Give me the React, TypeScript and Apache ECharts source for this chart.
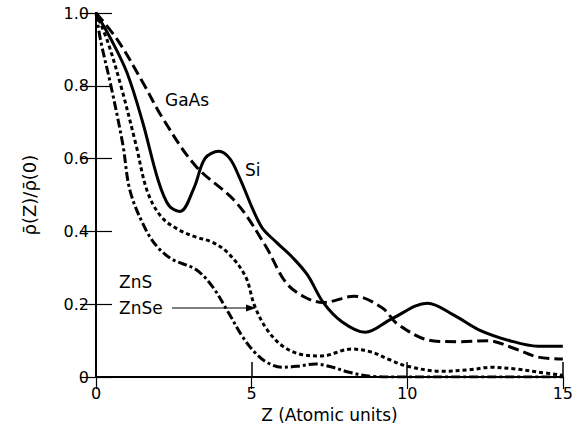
import React, { useEffect, useRef } from "react";
import * as echarts from "echarts";

// Z (atomic units) and normalized density rho(Z)/rho(0)
const siX = [0, 0.5, 1.0, 1.5, 2.0, 2.35, 2.7, 3.15, 3.5, 3.95, 4.3, 4.6, 5.3, 5.8, 6.3, 6.8, 7.3, 7.9, 8.65, 9.5, 10.65, 11.5, 12.3, 13.3, 14.2, 15];
const siY = [1.0, 0.925, 0.835, 0.7, 0.54, 0.47, 0.455, 0.52, 0.6, 0.62, 0.6, 0.55, 0.415, 0.37, 0.33, 0.28, 0.205, 0.152, 0.123, 0.16, 0.203, 0.17, 0.13, 0.1, 0.085, 0.085];

const gaasX = [0, 0.7, 1.5, 2.15, 3.2, 4.5, 5.45, 6.1, 6.7, 7.3, 8.3, 9.2, 9.7, 10.8, 11.7, 12.6, 13.4, 14.2, 15];
const gaasY = [1.0, 0.925, 0.81, 0.71, 0.58, 0.48, 0.36, 0.26, 0.22, 0.205, 0.222, 0.19, 0.145, 0.1, 0.097, 0.1, 0.08, 0.055, 0.05];

const znseX = [0, 0.38, 0.8, 1.28, 1.65, 2.1, 2.65, 3.2, 3.75, 4.25, 4.8, 5.1, 5.5, 6.0, 6.6, 7.25, 8.2, 8.8, 9.4, 10.0, 11.1, 12.0, 12.7, 13.5, 14.2, 15];
const znseY = [1.0, 0.92, 0.8, 0.64, 0.51, 0.44, 0.405, 0.385, 0.37, 0.34, 0.277, 0.195, 0.13, 0.085, 0.062, 0.058, 0.077, 0.07, 0.049, 0.03, 0.016, 0.02, 0.027, 0.022, 0.014, 0.005];

const znsX = [0, 0.16, 0.48, 0.86, 1.1, 1.6, 2.0, 2.46, 3.2, 3.73, 4.25, 4.7, 5.1, 5.5, 6.0, 6.5, 7.05, 7.6, 8.1, 8.85, 10, 15];
const znsY = [1.0, 0.92, 0.8, 0.64, 0.51, 0.405, 0.355, 0.323, 0.296, 0.25, 0.178, 0.112, 0.068, 0.04, 0.027, 0.03, 0.036, 0.027, 0.014, 0.002, 0, 0];

const xTicks = [0, 5, 10, 15];
const yTicks = [0, 0.2, 0.4, 0.6, 0.8, 1.0];

const pairs = (xs: number[], ys: number[]) => xs.map((x, i) => [x, ys[i]]);

const FONT = "DejaVu Sans";

export default function App() {
  const ref = useRef<HTMLDivElement>(null);
  useEffect(() => {
    if (!ref.current) return;
    const chart = echarts.init(ref.current, null, { renderer: "svg" });
    const lineBase = { type: "line", showSymbol: false, smooth: 0.35, silent: true };
    const axisLine = { show: true, lineStyle: { color: "#000", width: 2 } };
    chart.setOption({
      animation: false,
      backgroundColor: "#fff",
      grid: { left: 96, right: 9, top: 13, bottom: 50 },
      xAxis: [
        {
          type: "value",
          min: xTicks[0],
          max: xTicks[xTicks.length - 1],
          interval: 5,
          name: "Z (Atomic units)",
          nameLocation: "middle",
          nameGap: 26,
          nameTextStyle: { fontFamily: FONT, fontSize: 17, color: "#000" },
          axisLine,
          axisTick: { show: true, inside: true, length: 15, lineStyle: { color: "#000", width: 1.5 } },
          axisLabel: { margin: 8, fontFamily: FONT, fontSize: 16, color: "#000" },
          splitLine: { show: false },
        },
        {
          type: "value",
          position: "top",
          min: xTicks[0],
          max: xTicks[xTicks.length - 1],
          interval: 5,
          axisLine,
          axisTick: { show: true, inside: true, length: 12, lineStyle: { color: "#000", width: 1.2 } },
          axisLabel: { show: false },
          splitLine: { show: false },
        },
      ],
      yAxis: [
        {
          type: "value",
          min: yTicks[0],
          max: yTicks[yTicks.length - 1],
          interval: 0.2,
          name: "ρ̄(Z)/ρ̄(0)",
          nameLocation: "middle",
          nameGap: 58,
          nameTextStyle: { fontFamily: FONT, fontSize: 18, color: "#000" },
          axisLine,
          axisTick: { show: true, inside: true, length: 16, lineStyle: { color: "#000", width: 1.2 } },
          axisLabel: {
            margin: 7,
            fontFamily: FONT,
            fontSize: 16,
            color: "#000",
            formatter: (v: number) => (v === 0 ? "0" : v.toFixed(1)),
          },
          splitLine: { show: false },
        },
        {
          type: "value",
          position: "right",
          min: yTicks[0],
          max: yTicks[yTicks.length - 1],
          interval: 0.2,
          axisLine,
          axisTick: { show: true, inside: true, length: 16, lineStyle: { color: "#000", width: 1.2 } },
          axisLabel: { show: false },
          splitLine: { show: false },
        },
      ],
      series: [
        { ...lineBase, name: "Si", data: pairs(siX, siY), lineStyle: { color: "#000", width: 3, type: "solid" } },
        { ...lineBase, name: "GaAs", data: pairs(gaasX, gaasY), lineStyle: { color: "#000", width: 3, type: [11, 5] } },
        { ...lineBase, name: "ZnSe", data: pairs(znseX, znseY), lineStyle: { color: "#000", width: 3, type: [4, 3] } },
        { ...lineBase, name: "ZnS", data: pairs(znsX, znsY), lineStyle: { color: "#000", width: 3, type: [9, 3, 3, 3] } },
      ],
      graphic: [
        { type: "text", left: 165, top: 91, style: { text: "GaAs", font: `17px ${FONT}`, fill: "#000" } },
        { type: "text", left: 245, top: 161, style: { text: "Si", font: `17px ${FONT}`, fill: "#000" } },
        { type: "text", left: 119, top: 273, style: { text: "ZnS", font: `17px ${FONT}`, fill: "#000" } },
        { type: "text", left: 119, top: 299, style: { text: "ZnSe", font: `17px ${FONT}`, fill: "#000" } },
        { type: "line", shape: { x1: 172, y1: 308, x2: 248, y2: 308 }, style: { stroke: "#000", lineWidth: 1.2 } },
        { type: "polygon", shape: { points: [[256, 308], [246, 304.5], [246, 311.5]] }, style: { fill: "#000" } },
      ],
    });
    return () => chart.dispose();
  }, []);
  return <div ref={ref} style={{ position: "fixed", left: 0, top: 0, width: 576, height: 428 }} />;
}
